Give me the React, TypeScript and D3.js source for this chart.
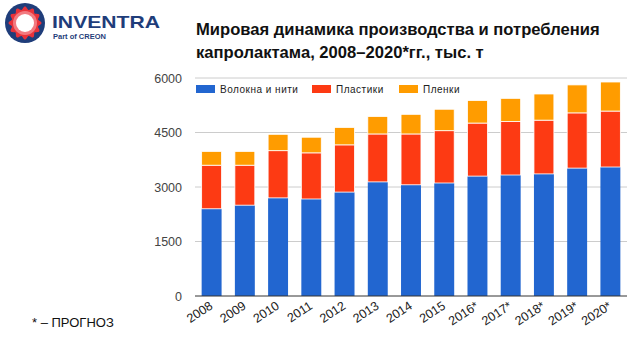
import React from "react";
import * as d3 from "d3";

const years = ["2008", "2009", "2010", "2011", "2012", "2013", "2014", "2015", "2016*", "2017*", "2018*", "2019*", "2020*"];
const fibers = [2400, 2500, 2700, 2670, 2860, 3140, 3060, 3110, 3300, 3330, 3360, 3520, 3550];
const plastics = [1200, 1100, 1300, 1270, 1300, 1320, 1400, 1440, 1460, 1470, 1480, 1520, 1540];
const films = [380, 380, 450, 430, 480, 480, 540, 590, 620, 640, 720, 770, 800];
const seriesNames = ["Волокна и нити", "Пластики", "Пленки"];
const seriesColors = ["#2266d0", "#fd3a13", "#ff9c00"];
const yTicks = [0, 1500, 3000, 4500, 6000];

const W = 640;
const H = 354;
const font = "Liberation Sans, Arial, sans-serif";

// little gear-like ring for the logo
function gearPath(cx: number, cy: number, rIn: number, rOut: number, teeth: number) {
  const pts: [number, number][] = [];
  const n = teeth * 16;
  for (let i = 0; i <= n; i++) {
    const a = (i / n) * Math.PI * 2;
    const r = rIn + (rOut - rIn) * (0.5 + 0.5 * Math.cos(a * teeth));
    pts.push([cx + r * Math.cos(a), cy + r * Math.sin(a)]);
  }
  return d3.line().curve(d3.curveLinearClosed)(pts) || "";
}

export default function App() {
  const rows = years.map((y, i) => ({ year: y, f: fibers[i], p: plastics[i], m: films[i] }));
  const stack = d3.stack<any>().keys(["f", "p", "m"]);
  const layers = stack(rows);

  const x = d3.scaleBand().domain(years).range([195, 627]).paddingInner(0.4).paddingOuter(0.2);
  const y = d3.scaleLinear().domain([0, 6000]).range([296, 78]);

  const legendX = [196, 312, 399];

  return (
    <svg width={W} height={H} style={{ position: "absolute", left: 0, top: 0, background: "#fff" }} fontFamily={font}>
      {/* logo */}
      <circle cx={25} cy={23} r={20} fill="#1f3d7a" />
      <path d={gearPath(25, 23, 13.5, 16.5, 12)} fill="#e8323a" />
      <circle cx={25} cy={23} r={12} fill="#f27a80" />
      <circle cx={25} cy={23} r={9} fill="#fff" />
      <text x={52} y={28} fontSize={17} fontWeight={900} fill="#1f3d7a" textLength={108} lengthAdjust="spacingAndGlyphs">
        INVENTRA
      </text>
      <text x={53} y={38.5} fontSize={7.5} fontWeight={700} fill="#1f3d7a">
        Part of CREON
      </text>

      {/* title */}
      <text x={196} y={35} fontSize={16.6} fontWeight={700} fill="#111">
        Мировая динамика производства и потребления
      </text>
      <text x={196} y={58} fontSize={16.6} fontWeight={700} fill="#111">
        капролактама, 2008–2020*гг., тыс. т
      </text>

      {/* grid + y labels */}
      {yTicks.map((t) => (
        <g key={t}>
          {t > 0 && <line x1={195} x2={627} y1={y(t)} y2={y(t)} stroke="#cccccc" strokeWidth={1} />}
          <text x={182} y={y(t) + 4.5} fontSize={12.5} fill="#444" textAnchor="end">
            {t}
          </text>
        </g>
      ))}

      {/* bars */}
      {layers.map((layer, li) => (
        <g key={li} fill={seriesColors[li]}>
          {layer.map((d: any, i: number) => (
            <rect
              key={i}
              x={x(years[i])}
              width={x.bandwidth()}
              y={y(d[1])}
              height={y(d[0]) - y(d[1])}
              stroke="#fff"
              strokeWidth={li > 0 ? 0.8 : 0}
            />
          ))}
        </g>
      ))}

      <line x1={195} x2={627} y1={y(0)} y2={y(0)} stroke="#333" strokeWidth={1} />

      {/* x labels */}
      {years.map((yr) => {
        const cx = (x(yr) || 0) + x.bandwidth() / 2 + 2;
        return (
          <text key={yr} transform={`translate(${cx},${308}) rotate(-33)`} fontSize={12.5} fill="#222" textAnchor="end">
            {yr}
          </text>
        );
      })}

      {/* legend */}
      {seriesNames.map((s, i) => (
        <g key={s}>
          <rect x={legendX[i]} y={85} width={19} height={8} fill={seriesColors[i]} />
          <text x={legendX[i] + 24} y={93} fontSize={10} fill="#222" letterSpacing={0.5}>
            {s}
          </text>
        </g>
      ))}

      <text x={32} y={327} fontSize={13} fill="#111">
        * – ПРОГНОЗ
      </text>
    </svg>
  );
}
